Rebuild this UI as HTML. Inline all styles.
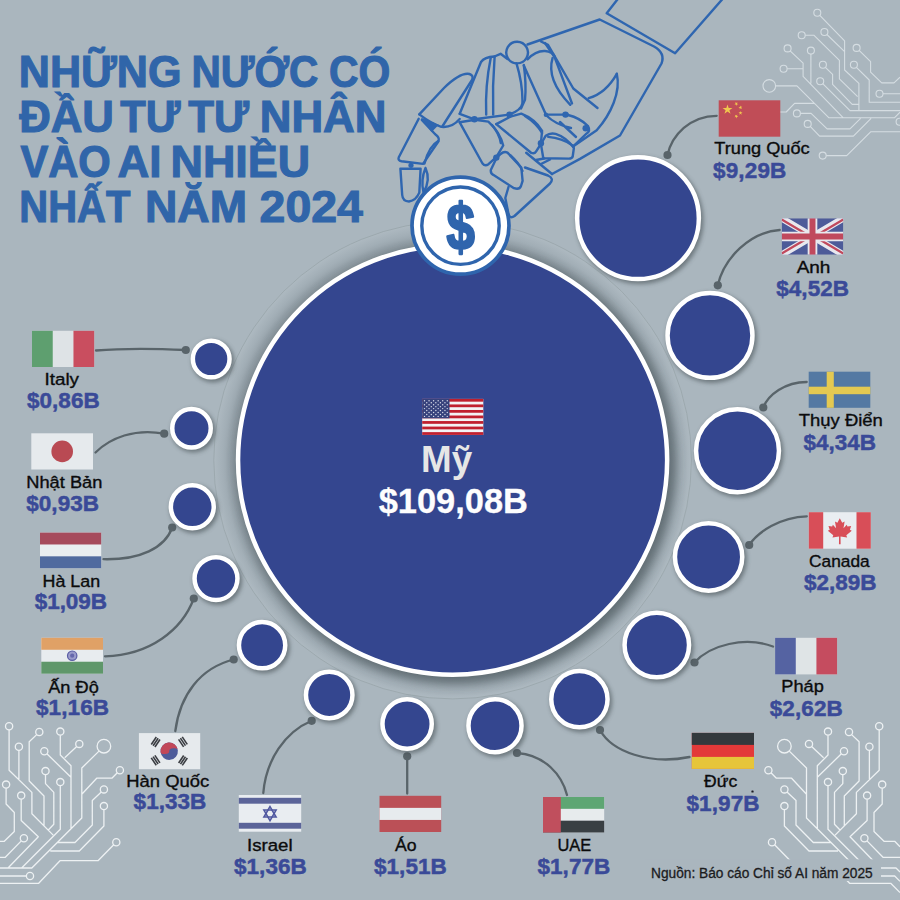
<!DOCTYPE html>
<html lang="vi"><head><meta charset="utf-8"><title>Những nước có đầu tư tư nhân vào AI nhiều nhất năm 2024</title>
<style>html,body{margin:0;padding:0;background:#aab6be;}body{width:900px;height:900px;overflow:hidden;position:relative;font-family:"Liberation Sans", sans-serif;}svg{display:block}text{font-family:"Liberation Sans", sans-serif;}</style></head><body>
<svg width="900" height="900" viewBox="0 0 900 900">
<defs><filter id="blur2" x="-20%" y="-20%" width="140%" height="140%"><feGaussianBlur stdDeviation="2"/></filter>
<radialGradient id="halo" gradientUnits="userSpaceOnUse" cx="452.6" cy="460.1" r="238.8"><stop offset="0.8995" stop-color="#566268" stop-opacity=".42"/><stop offset="0.9288" stop-color="#66727a" stop-opacity=".36"/><stop offset="0.9623" stop-color="#85929a" stop-opacity=".2"/><stop offset="1" stop-color="#bcc6cc" stop-opacity=".2"/></radialGradient>
<filter id="blur5" x="-10%" y="-10%" width="120%" height="120%"><feGaussianBlur stdDeviation="5.5"/></filter><clipPath id="haloclip"><circle cx="452.6" cy="460.1" r="238.8"/></clipPath>
</defs>
<rect width="900" height="900" fill="#aab6be"/>
<g fill="none" stroke="#d5dde2" stroke-width="1.1" stroke-linejoin="round"><path d="M819.8,15.3 L844.6,40.9 V70 L858.9,83.3 V110.6 M826.9,34.5 L844.6,51.6 M805.2,35.2 H813.8 L839.4,60.4 V78.9 L857.6,96.7 M790.1,50.9 L803.1,63.1 V76.4 L843.3,117.8 H894.4 L900,112.2 M810.9,54.1 V83.6 M787.1,68.8 H803.1 M775.6,85.9 H796.9 L829,117.8 H844 M825.4,67.3 L832.6,74.4 V84.4 L852.2,104.4 H858.9 M822.7,83.7 L850,110.6 H900 M859.1,50.4 L870.6,61.6 V72.2 L881.7,82.9 H894 L900,77.2 M856.4,67.3 L869.2,80 V102.2 H900 M883,93.8 H900 M777.1,112 H786.2 L794.6,103.4 H814.6 M800.4,113.4 H811.1 L827.1,128.9 H850 L860.6,118.3 M810.2,126.4 L819.6,136.1 H853.4 L871.1,118.3 M826.2,155.6 H846.7 L870.9,131.7 H900"/><circle cx="817.3" cy="12.8" r="3.5"/><circle cx="824.4" cy="32" r="3.5"/><circle cx="801.7" cy="35.2" r="3.5"/><circle cx="787.6" cy="48.4" r="3.5"/><circle cx="810.9" cy="50.6" r="3.5"/><circle cx="783.6" cy="68.8" r="3.5"/><circle cx="769.3" cy="85.9" r="6.3"/><circle cx="822.9" cy="64.8" r="3.5"/><circle cx="820.2" cy="81.2" r="3.5"/><circle cx="856.6" cy="47.9" r="3.5"/><circle cx="853.9" cy="64.8" r="3.5"/><circle cx="879.5" cy="93.8" r="3.5"/><circle cx="773.8" cy="112" r="3.3"/><circle cx="796.9" cy="113.4" r="3.5"/><circle cx="807.7" cy="123.9" r="3.5"/><circle cx="822.7" cy="155.6" r="3.5"/><circle cx="899.6" cy="121.7" r="3.5"/></g><g fill="none" stroke="#edf1f3" stroke-width="1.3" stroke-linejoin="round"><path d="M789.3,751.1 L806.5,768 V818 L856.5,868 H896 L900,872 M828,735.2 V755 L817.3,765.8 V828.8 M811.6,746.5 L823.6,757.8 M841.4,753.8 L817.3,777.3 M851.6,734.6 L859.1,741.8 V781 L844.3,796 V826 M879.2,729.9 V770.2 L856.4,792.4 V813.8 L835.1,835.1 M869.4,750.4 V780 M842.8,774.7 V783.6 L834.5,792.4 V824.2 L840,830 M828,785.7 V829.3 L866.7,868 M771,772.8 L776.4,778.2 H791.6 L806.5,794.2 M787,792 L796,800.4 V825 L813.3,842.5 H831 M784.4,809.7 V826 L809,851 H838 M774.6,844.8 L790.3,860.7 H828.3 L849.6,883.3 H890.7 L900,892.6 M867.1,799.2 V820.5 L850,836.8 L880.3,868 M882.2,788.2 V804 L874,812.5 V831.5 L884,841.3 H894.7 L900,846.7 M867,840.9 L883,857.3 H900 M861.9,876 H894.7 L900,881.3"/><circle cx="784.4" cy="746.2" r="6.8"/><circle cx="828" cy="731.6" r="3.6"/><circle cx="809" cy="743.9" r="3.6"/><circle cx="844" cy="751.2" r="3.6"/><circle cx="849" cy="732" r="3.6"/><circle cx="879.2" cy="726.3" r="3.6"/><circle cx="869.4" cy="746.8" r="3.6"/><circle cx="842.8" cy="771.1" r="3.6"/><circle cx="828" cy="782.1" r="3.6"/><circle cx="768.4" cy="770.2" r="3.6"/><circle cx="784.4" cy="789.4" r="3.6"/><circle cx="784.4" cy="806.1" r="3.6"/><circle cx="772" cy="842.2" r="3.6"/><circle cx="867.1" cy="795.6" r="3.6"/><circle cx="882.2" cy="784.6" r="3.6"/><circle cx="864.4" cy="838.3" r="3.6"/><circle cx="858.3" cy="876" r="3.6"/></g><g fill="none" stroke="#edf1f3" stroke-width="1.3" stroke-linejoin="round" transform="translate(888.3,0) scale(-1,1)"><path d="M789.3,751.1 L806.5,768 V818 L856.5,868 H896 L900,872 M828,735.2 V755 L817.3,765.8 V828.8 M811.6,746.5 L823.6,757.8 M841.4,753.8 L817.3,777.3 M851.6,734.6 L859.1,741.8 V781 L844.3,796 V826 M879.2,729.9 V770.2 L856.4,792.4 V813.8 L835.1,835.1 M869.4,750.4 V780 M842.8,774.7 V783.6 L834.5,792.4 V824.2 L840,830 M828,785.7 V829.3 L866.7,868 M771,772.8 L776.4,778.2 H791.6 L806.5,794.2 M787,792 L796,800.4 V825 L813.3,842.5 H831 M784.4,809.7 V826 L809,851 H838 M774.6,844.8 L790.3,860.7 H828.3 L849.6,883.3 H890.7 L900,892.6 M867.1,799.2 V820.5 L850,836.8 L880.3,868 M882.2,788.2 V804 L874,812.5 V831.5 L884,841.3 H894.7 L900,846.7 M867,840.9 L883,857.3 H900 M861.9,876 H894.7 L900,881.3"/><circle cx="784.4" cy="746.2" r="6.8"/><circle cx="828" cy="731.6" r="3.6"/><circle cx="809" cy="743.9" r="3.6"/><circle cx="844" cy="751.2" r="3.6"/><circle cx="849" cy="732" r="3.6"/><circle cx="879.2" cy="726.3" r="3.6"/><circle cx="869.4" cy="746.8" r="3.6"/><circle cx="842.8" cy="771.1" r="3.6"/><circle cx="828" cy="782.1" r="3.6"/><circle cx="768.4" cy="770.2" r="3.6"/><circle cx="784.4" cy="789.4" r="3.6"/><circle cx="784.4" cy="806.1" r="3.6"/><circle cx="772" cy="842.2" r="3.6"/><circle cx="867.1" cy="795.6" r="3.6"/><circle cx="882.2" cy="784.6" r="3.6"/><circle cx="864.4" cy="838.3" r="3.6"/><circle cx="858.3" cy="876" r="3.6"/></g><rect x="645" y="859.3" width="236" height="21.7" fill="#aab6be"/>
<g fill="none" stroke="#2f66b0" stroke-width="2.4" stroke-linejoin="round" stroke-linecap="round"><path d="M617.8,-1 L606.7,13.3 L675.1,53.3 L722.5,-1"/><path d="M527.5,44.5 L599.7,19.5 L654,46.5 Q665.5,53 661.5,63.5 L620,135.5 L580,158.9 L552,174"/><path d="M525,167.5 L548,175.5 Q554.5,178.5 550,183.5 L514.5,216 Q509.5,219.5 508.3,213 L505.3,198 L508.5,187"/><path d="M616.8,73.8 C621,92 611,114 596.7,130.3 L573,146.5"/><path d="M616.8,73.8 Q606,93 588.7,98.2"/><path d="M541,41.5 L548,44.8 L573.3,88.5 L597.5,108"/><path d="M545,43 L554.4,56.7 L572,103.5"/><path d="M552.6,57.9 Q546,80 570.3,104.8"/><path d="M527.5,59.3 Q536,50.5 545,51 Q553,52 554.4,56"/><path d="M523.8,65.5 L545.9,114.6 L567.8,114.6"/><path d="M517.1,41.8 a10.8,10.8 0 1 0 0.01,0 Z"/><path d="M459.7,113.8 L481,62 Q484.5,57 494.4,56.5"/><path d="M490.8,57.5 Q485,86 486.2,114.6"/><path d="M494.6,57 Q492.3,86 493.2,114.6"/><path d="M494.4,56.5 L500.6,53.8 L507.5,59"/><path d="M516.5,63.3 Q523,85 522.4,103.3 Q521.5,110 509.1,114.6"/><path d="M523.8,65 Q526.5,84 525,99.7 L521,108.5"/><path d="M459.7,113.8 L474.4,119.3 L509.1,114.6"/><path d="M419.3,114.4 L444,88 Q460.5,72 469.5,74 Q474,75.5 472,80 L442.6,126"/><path d="M419.3,114.4 Q432,124 441.3,126.8 Q452,128 459.7,119"/><path d="M418.7,118.7 L398.8,157.2 Q397.6,160.5 401.5,161.3 L423,163.9 L438.5,141.2 Q440,137.5 435.2,134.2 L421.8,119.9"/><path d="M438.2,141 Q429,146 424.5,163.5"/><path d="M400.4,168.7 L420.6,168.7 L419.3,192.6 Q416,200.5 409,201.5 Q402.8,201.5 402.2,195 Z"/><path d="M425.5,168 Q431,180 423.5,192.5 Q420.5,180 425.5,168"/><path d="M459.7,122.3 L474.9,119.8 L488.3,121.6 Q500,132 503.2,145.5 L496.3,157.1"/><path d="M459.7,122.3 L482.5,163.5 Q485,166.5 488.5,164.2 L496.3,157.1"/><path d="M492,125 Q499.5,134 500.8,143"/><path d="M496.3,158.5 L490.8,169.9 Q490.5,173.5 493.2,174.8 L514,188.2 Q519.5,190 521,186 L522.6,180.9 L521.3,167.5 L507.5,152.6 Q504,151 500.6,154 Z"/><path d="M510.3,155.2 Q519,163 522.5,171"/><path d="M496.3,124.1 L510.3,116.7 L521.3,113.7 Q535,119 542.1,130.8 L540.9,143"/><path d="M496.3,124.1 L531.1,152.8 Q534.5,154 536,151.6 L540.9,144"/><path d="M525,116.1 Q536,123 542.1,133"/><path d="M540.9,144 L545.8,135.7 Q550,132.5 555.6,133.8 Q566,137 573.9,147.9 L572.7,156.5 Q572,158.5 569,158.6 L543.3,158.3 Z"/><path d="M548.2,136.9 Q562,138 572.7,145.5"/><path d="M526.2,152.8 L552,174"/><path d="M536,160 L544,158.5 M541,164 L550,159.5"/><path d="M545.8,115 Q556,125 571,128 M568,115 Q580,118 588,126 Q591,131 586,134 L573,146.5 M560,122 L576,137"/></g><g fill="#2f66b0"><circle cx="474.4" cy="119.3" r="3.2"/><circle cx="509.5" cy="114.6" r="3.2"/><circle cx="432.5" cy="125.5" r="3"/><circle cx="411" cy="165.3" r="2.6"/><circle cx="496.3" cy="157.6" r="3.2"/><circle cx="540.9" cy="143.3" r="3.2"/><circle cx="565.5" cy="114.6" r="3.2"/><circle cx="585.7" cy="128.2" r="3.2"/><circle cx="545.9" cy="114.8" r="2.2"/><path d="M420.6,117.5 L438.9,124.8 L431.6,132.1 Z"/></g>
<circle cx="452.6" cy="460.1" r="238.8" fill="url(#halo)" stroke="#98a4aa" stroke-width=".8"/>
<g clip-path="url(#haloclip)"><circle cx="456.6" cy="464.6" r="218.8" fill="#39444a" opacity=".5" filter="url(#blur5)"/></g>
<g fill="none" stroke="#59646a" stroke-width="2.3" stroke-linecap="round">
<path d="M716.7,115.8 C690,116 672,135 667.5,155"/>
<path d="M779.7,230 C750,232 724,258 717.8,285.3"/>
<path d="M806.7,382 C785,382 768,395 763.3,407.5"/>
<path d="M806.8,516.3 C780,517 758,532 749.2,545"/>
<path d="M694.5,662.5 C710,645 745,636 773,646.5"/>
<path d="M600,730 C612,752 650,765 689.5,757"/>
<path d="M517,753 C545,755 562,775 567,795"/>
<path d="M407.2,756.3 V793.5"/>
<path d="M263.3,793 C266,760 285,732 311.7,720.8"/>
<path d="M175.3,731 C180,695 200,668 233.7,659.5"/>
<path d="M105,656.3 C150,655 182,630 193.8,598.5"/>
<path d="M103.5,559.2 C140,560 165,548 172.2,527.5"/>
<path d="M95.5,452.5 C110,438 135,428 164.2,433.7"/>
<path d="M96,350.5 C125,348 155,348.5 185.8,350"/>
</g>
<g fill="#59646a">
<circle cx="667.5" cy="155" r="4.1"/>
<circle cx="717.8" cy="285.3" r="4.1"/>
<circle cx="763.3" cy="407.5" r="4.1"/>
<circle cx="749.2" cy="545" r="4.1"/>
<circle cx="694.5" cy="662.5" r="4.1"/>
<circle cx="600" cy="730" r="4.1"/>
<circle cx="517" cy="753" r="4.1"/>
<circle cx="407.2" cy="756.3" r="4.1"/>
<circle cx="311.7" cy="720.8" r="4.1"/>
<circle cx="233.7" cy="659.5" r="4.1"/>
<circle cx="193.8" cy="598.5" r="4.1"/>
<circle cx="172.2" cy="527.5" r="4.1"/>
<circle cx="164.2" cy="433.7" r="4.1"/>
<circle cx="185.8" cy="350" r="4.1"/>
</g>
<circle cx="639.8" cy="220.4" r="63.7" fill="#3c474c" opacity=".55" filter="url(#blur2)"/><circle cx="638.0" cy="218.2" r="60.85" fill="#34468f" stroke="#fff" stroke-width="4.5"/>
<circle cx="711.8" cy="337.6" r="45.3" fill="#3c474c" opacity=".55" filter="url(#blur2)"/><circle cx="710.0" cy="335.4" r="42.45" fill="#34468f" stroke="#fff" stroke-width="4.5"/>
<circle cx="739.3" cy="453.0" r="44.3" fill="#3c474c" opacity=".55" filter="url(#blur2)"/><circle cx="737.5" cy="450.8" r="41.45" fill="#34468f" stroke="#fff" stroke-width="4.5"/>
<circle cx="710.4" cy="559.2" r="36.5" fill="#3c474c" opacity=".55" filter="url(#blur2)"/><circle cx="708.6" cy="557.0" r="33.65" fill="#34468f" stroke="#fff" stroke-width="4.5"/>
<circle cx="658.6" cy="647.2" r="35.1" fill="#3c474c" opacity=".55" filter="url(#blur2)"/><circle cx="656.8" cy="645.0" r="32.25" fill="#34468f" stroke="#fff" stroke-width="4.5"/>
<circle cx="581.2" cy="701.4" r="31.0" fill="#3c474c" opacity=".55" filter="url(#blur2)"/><circle cx="579.4" cy="699.2" r="28.15" fill="#34468f" stroke="#fff" stroke-width="4.5"/>
<circle cx="496.8" cy="727.9" r="29.4" fill="#3c474c" opacity=".55" filter="url(#blur2)"/><circle cx="495.0" cy="725.7" r="26.55" fill="#34468f" stroke="#fff" stroke-width="4.5"/>
<circle cx="408.9" cy="726.2" r="27.5" fill="#3c474c" opacity=".55" filter="url(#blur2)"/><circle cx="407.1" cy="724.0" r="24.65" fill="#34468f" stroke="#fff" stroke-width="4.5"/>
<circle cx="331.0" cy="697.2" r="26.1" fill="#3c474c" opacity=".55" filter="url(#blur2)"/><circle cx="329.2" cy="695.0" r="23.25" fill="#34468f" stroke="#fff" stroke-width="4.5"/>
<circle cx="263.9" cy="647.4" r="26.0" fill="#3c474c" opacity=".55" filter="url(#blur2)"/><circle cx="262.1" cy="645.2" r="23.15" fill="#34468f" stroke="#fff" stroke-width="4.5"/>
<circle cx="217.8" cy="580.8" r="24.3" fill="#3c474c" opacity=".55" filter="url(#blur2)"/><circle cx="216.0" cy="578.6" r="21.45" fill="#34468f" stroke="#fff" stroke-width="4.5"/>
<circle cx="194.1" cy="509.0" r="24.3" fill="#3c474c" opacity=".55" filter="url(#blur2)"/><circle cx="192.3" cy="506.8" r="21.45" fill="#34468f" stroke="#fff" stroke-width="4.5"/>
<circle cx="193.3" cy="430.4" r="22.1" fill="#3c474c" opacity=".55" filter="url(#blur2)"/><circle cx="191.5" cy="428.2" r="19.25" fill="#34468f" stroke="#fff" stroke-width="4.5"/>
<circle cx="213.0" cy="361.2" r="21.2" fill="#3c474c" opacity=".55" filter="url(#blur2)"/><circle cx="211.2" cy="359.0" r="18.35" fill="#34468f" stroke="#fff" stroke-width="4.5"/>
<circle cx="452.6" cy="460.1" r="214.55" fill="#34468f" stroke="#fff" stroke-width="4.5"/>
<!--COIN-->
<g><circle cx="460.5" cy="225.7" r="48.5" fill="#fff" stroke="#2f65ad" stroke-width="3.7"/><circle cx="460.5" cy="225.7" r="38.7" fill="none" stroke="#2f65ad" stroke-width="3.4"/><text transform="translate(460.7,248.6) scale(0.835,1.055)" x="0" y="0" text-anchor="middle" font-size="61" font-weight="700" fill="#2f65ad" stroke="#2f65ad" stroke-width="2.2" stroke-linejoin="round">$</text></g>
<g transform="translate(32.0,330.8)"><rect width="62.2" height="36.2" fill="#dee3e6"/><rect width="20.73" height="36.2" fill="#5e9f6f"/><rect x="41.47" width="20.73" height="36.2" fill="#c94e5f"/></g>
<g transform="translate(31.3,433.3)"><rect width="61.7" height="36.2" fill="#e6eaed"/><circle cx="30.9" cy="18.1" r="10.8" fill="#b94a53"/></g>
<g transform="translate(40.0,532.6)"><rect width="61.2" height="35.6" fill="#e9edf0"/><rect width="61.2" height="11.87" fill="#a64a5c"/><rect y="23.73" width="61.2" height="11.87" fill="#506a9f"/></g>
<g transform="translate(41.3,637.8)"><rect width="61.7" height="35.9" fill="#e8ecef"/><rect width="61.7" height="11.97" fill="#e0a166"/><rect y="23.93" width="61.7" height="11.97" fill="#5f976a"/><circle cx="30.9" cy="17.9" r="4.7" fill="#9a9ccb" stroke="#5a5ca4" stroke-width="1.2"/><circle cx="30.9" cy="17.9" r="2.1" fill="#6668ac"/></g>
<g transform="translate(138.9,733.1)"><rect width="61.3" height="36.1" fill="#e6eaed"/><g transform="rotate(-6 30.3 18.1)"><circle cx="30.3" cy="18.1" r="8.7" fill="#4d5b9a"/><path d="M21.65,18.05 A8.7,8.7 0 0 1 39.05,18.05 A4.35,2.42 0 0 0 30.35,18.05 A4.35,2.42 0 0 1 21.65,18.05Z" fill="#c14758"/></g><g transform="rotate(34 30.3 18.1)"><rect x="15.30" y="13.55" width="1.6" height="9" fill="#3a3d42"/><rect x="13.10" y="13.55" width="1.6" height="9" fill="#3a3d42"/><rect x="10.90" y="13.55" width="1.6" height="9" fill="#3a3d42"/><rect x="43.90" y="13.55" width="1.6" height="9" fill="#3a3d42"/><rect x="46.10" y="13.55" width="1.6" height="9" fill="#3a3d42"/><rect x="48.30" y="13.55" width="1.6" height="9" fill="#3a3d42"/></g><g transform="rotate(-34 30.3 18.1)"><rect x="15.30" y="13.55" width="1.6" height="9" fill="#3a3d42"/><rect x="13.10" y="13.55" width="1.6" height="9" fill="#3a3d42"/><rect x="10.90" y="13.55" width="1.6" height="9" fill="#3a3d42"/><rect x="43.90" y="13.55" width="1.6" height="9" fill="#3a3d42"/><rect x="46.10" y="13.55" width="1.6" height="9" fill="#3a3d42"/><rect x="48.30" y="13.55" width="1.6" height="9" fill="#3a3d42"/></g></g>
<g transform="translate(238.8,795.0)"><rect width="62.4" height="36.7" fill="#e9edf1"/><rect y="2.8" width="62.4" height="5.9" fill="#5b6499"/><rect y="27.8" width="62.4" height="5.9" fill="#5b6499"/><polygon points="31.20,11.55 37.26,22.05 25.14,22.05" fill="none" stroke="#5058a0" stroke-width="1.6"/><polygon points="31.20,25.55 25.14,15.05 37.26,15.05" fill="none" stroke="#5058a0" stroke-width="1.6"/></g>
<g transform="translate(379.5,795.8)"><rect width="61.7" height="36.2" fill="#bb5057"/><rect y="12.07" width="61.7" height="12.07" fill="#e7ebee"/></g>
<g transform="translate(543.0,797.0)"><rect width="61.2" height="35.5" fill="#e7ebed"/><rect width="61.2" height="11.83" fill="#5ea673"/><rect y="23.67" width="61.2" height="11.83" fill="#393f43"/><rect width="17.8" height="35.5" fill="#c04f5d"/></g>
<g transform="translate(691.8,732.9)"><rect width="62.2" height="36" fill="#e33939"/><rect width="62.2" height="12.00" fill="#33393d"/><rect y="24.00" width="62.2" height="12.00" fill="#e6c53a"/></g>
<g transform="translate(775.1,637.8)"><rect width="62" height="36.6" fill="#dfe4e6"/><rect width="20.67" height="36.6" fill="#5563a2"/><rect x="41.33" width="20.67" height="36.6" fill="#c54c5f"/></g>
<g transform="translate(808.8,512.2)"><rect width="62" height="36.5" fill="#e9edf1"/><rect width="14.4" height="36.5" fill="#d84e58"/><rect x="47.7" width="14.3" height="36.5" fill="#d84e58"/><path transform="translate(31.0,19.6) scale(1.05,1)" d="M0,-13.5 L2.3,-9 L4.6,-10.2 L3.5,-3.6 L6.6,-7 L7.3,-5.2 L10.8,-5.9 L9.6,-2 L11.4,-1.1 L6.2,3.4 L7,5.6 L0.7,4.8 L0.8,12.5 L-0.8,12.5 L-0.7,4.8 L-7,5.6 L-6.2,3.4 L-11.4,-1.1 L-9.6,-2 L-10.8,-5.9 L-7.3,-5.2 L-6.6,-7 L-3.5,-3.6 L-4.6,-10.2 L-2.3,-9 Z" fill="#d84e58"/></g>
<g transform="translate(808.7,371.7)"><rect width="61.6" height="36.1" fill="#5479a3"/><rect x="18" width="7.1" height="36.1" fill="#e4c952"/><rect y="15" width="61.6" height="7.5" fill="#e4c952"/></g>
<g transform="translate(781.7,218.3)"><svg width="61.6" height="36.4" viewBox="0 0 60 36" preserveAspectRatio="none"><clipPath id="ukc"><rect width="60" height="36"/></clipPath><g clip-path="url(#ukc)"><rect width="60" height="36" fill="#4d5b99"/><path d="M0,0L60,36M60,0L0,36" stroke="#e8e8ee" stroke-width="6.6"/><path d="M0,1.2L28,18M60,1.2L32,18M0,34.8L28,18M60,34.8L32,18" stroke="#c0495d" stroke-width="2.1" transform="translate(0,0)"/><path d="M30,0V36M0,18H60" stroke="#e8e8ee" stroke-width="9.4"/><path d="M30,0V36M0,18H60" stroke="#c0495d" stroke-width="5.8"/></g></svg></g>
<g transform="translate(718.7,100.3)"><rect width="61.6" height="36.4" fill="#c04d57"/><polygon points="8.80,4.10 9.97,7.69 13.75,7.69 10.69,9.91 11.86,13.51 8.80,11.29 5.74,13.51 6.91,9.91 3.85,7.69 7.63,7.69" fill="#f0c84e"/><polygon points="18.65,1.68 18.33,3.17 19.65,3.94 18.14,4.10 17.82,5.59 17.20,4.19 15.68,4.35 16.82,3.33 16.19,1.94 17.52,2.70" fill="#f0c84e"/><polygon points="23.62,6.15 22.60,7.28 23.36,8.61 21.97,7.98 20.95,9.12 21.11,7.60 19.71,6.98 21.20,6.66 21.36,5.15 22.13,6.47" fill="#f0c84e"/><polygon points="21.80,10.60 22.27,12.05 23.80,12.05 22.56,12.95 23.03,14.40 21.80,13.50 20.57,14.40 21.04,12.95 19.80,12.05 21.33,12.05" fill="#f0c84e"/><polygon points="18.65,14.18 18.33,15.67 19.65,16.44 18.14,16.60 17.82,18.09 17.20,16.69 15.68,16.85 16.82,15.83 16.19,14.44 17.52,15.20" fill="#f0c84e"/></g>
<g transform="translate(422.2,398.9)"><rect width="61.1" height="36" fill="#f3f3f5"/><rect y="0.00" width="61.1" height="2.77" fill="#c0202f"/><rect y="5.54" width="61.1" height="2.77" fill="#c0202f"/><rect y="11.08" width="61.1" height="2.77" fill="#c0202f"/><rect y="16.62" width="61.1" height="2.77" fill="#c0202f"/><rect y="22.15" width="61.1" height="2.77" fill="#c0202f"/><rect y="27.69" width="61.1" height="2.77" fill="#c0202f"/><rect y="33.23" width="61.1" height="2.77" fill="#c0202f"/><rect width="27.3" height="19.38" fill="#37427c"/><circle cx="2.30" cy="1.90" r="0.7" fill="#d9dcea"/><circle cx="6.85" cy="1.90" r="0.7" fill="#d9dcea"/><circle cx="11.40" cy="1.90" r="0.7" fill="#d9dcea"/><circle cx="15.95" cy="1.90" r="0.7" fill="#d9dcea"/><circle cx="20.50" cy="1.90" r="0.7" fill="#d9dcea"/><circle cx="25.05" cy="1.90" r="0.7" fill="#d9dcea"/><circle cx="4.55" cy="3.85" r="0.7" fill="#d9dcea"/><circle cx="9.10" cy="3.85" r="0.7" fill="#d9dcea"/><circle cx="13.65" cy="3.85" r="0.7" fill="#d9dcea"/><circle cx="18.20" cy="3.85" r="0.7" fill="#d9dcea"/><circle cx="22.75" cy="3.85" r="0.7" fill="#d9dcea"/><circle cx="2.30" cy="5.80" r="0.7" fill="#d9dcea"/><circle cx="6.85" cy="5.80" r="0.7" fill="#d9dcea"/><circle cx="11.40" cy="5.80" r="0.7" fill="#d9dcea"/><circle cx="15.95" cy="5.80" r="0.7" fill="#d9dcea"/><circle cx="20.50" cy="5.80" r="0.7" fill="#d9dcea"/><circle cx="25.05" cy="5.80" r="0.7" fill="#d9dcea"/><circle cx="4.55" cy="7.75" r="0.7" fill="#d9dcea"/><circle cx="9.10" cy="7.75" r="0.7" fill="#d9dcea"/><circle cx="13.65" cy="7.75" r="0.7" fill="#d9dcea"/><circle cx="18.20" cy="7.75" r="0.7" fill="#d9dcea"/><circle cx="22.75" cy="7.75" r="0.7" fill="#d9dcea"/><circle cx="2.30" cy="9.70" r="0.7" fill="#d9dcea"/><circle cx="6.85" cy="9.70" r="0.7" fill="#d9dcea"/><circle cx="11.40" cy="9.70" r="0.7" fill="#d9dcea"/><circle cx="15.95" cy="9.70" r="0.7" fill="#d9dcea"/><circle cx="20.50" cy="9.70" r="0.7" fill="#d9dcea"/><circle cx="25.05" cy="9.70" r="0.7" fill="#d9dcea"/><circle cx="4.55" cy="11.65" r="0.7" fill="#d9dcea"/><circle cx="9.10" cy="11.65" r="0.7" fill="#d9dcea"/><circle cx="13.65" cy="11.65" r="0.7" fill="#d9dcea"/><circle cx="18.20" cy="11.65" r="0.7" fill="#d9dcea"/><circle cx="22.75" cy="11.65" r="0.7" fill="#d9dcea"/><circle cx="2.30" cy="13.60" r="0.7" fill="#d9dcea"/><circle cx="6.85" cy="13.60" r="0.7" fill="#d9dcea"/><circle cx="11.40" cy="13.60" r="0.7" fill="#d9dcea"/><circle cx="15.95" cy="13.60" r="0.7" fill="#d9dcea"/><circle cx="20.50" cy="13.60" r="0.7" fill="#d9dcea"/><circle cx="25.05" cy="13.60" r="0.7" fill="#d9dcea"/><circle cx="4.55" cy="15.55" r="0.7" fill="#d9dcea"/><circle cx="9.10" cy="15.55" r="0.7" fill="#d9dcea"/><circle cx="13.65" cy="15.55" r="0.7" fill="#d9dcea"/><circle cx="18.20" cy="15.55" r="0.7" fill="#d9dcea"/><circle cx="22.75" cy="15.55" r="0.7" fill="#d9dcea"/><circle cx="2.30" cy="17.50" r="0.7" fill="#d9dcea"/><circle cx="6.85" cy="17.50" r="0.7" fill="#d9dcea"/><circle cx="11.40" cy="17.50" r="0.7" fill="#d9dcea"/><circle cx="15.95" cy="17.50" r="0.7" fill="#d9dcea"/><circle cx="20.50" cy="17.50" r="0.7" fill="#d9dcea"/><circle cx="25.05" cy="17.50" r="0.7" fill="#d9dcea"/></g>
<text x="44.46" y="385.0" font-size="16.8" font-weight="400" fill="#0b0b0c" textLength="34.58" lengthAdjust="spacingAndGlyphs" stroke="#0b0b0c" stroke-width=".35">Italy</text>
<text x="26.90" y="407.8" font-size="22.5" font-weight="700" fill="#3a4a98" textLength="72.82" lengthAdjust="spacing" stroke="#3a4a98" stroke-width=".5">$0,86B</text>
<text x="26.30" y="488.2" font-size="16.8" font-weight="400" fill="#0b0b0c" textLength="76.08" lengthAdjust="spacingAndGlyphs" stroke="#0b0b0c" stroke-width=".35">Nhật Bản</text>
<text x="26.20" y="511.2" font-size="22.5" font-weight="700" fill="#3a4a98" textLength="72.82" lengthAdjust="spacing" stroke="#3a4a98" stroke-width=".5">$0,93B</text>
<text x="42.53" y="586.8" font-size="16.8" font-weight="400" fill="#0b0b0c" textLength="57.63" lengthAdjust="spacingAndGlyphs" stroke="#0b0b0c" stroke-width=".35">Hà Lan</text>
<text x="34.70" y="609.0" font-size="22.5" font-weight="700" fill="#3a4a98" textLength="72.32" lengthAdjust="spacing" stroke="#3a4a98" stroke-width=".5">$1,09B</text>
<text x="48.26" y="692.8" font-size="16.8" font-weight="400" fill="#0b0b0c" textLength="50.50" lengthAdjust="spacingAndGlyphs" stroke="#0b0b0c" stroke-width=".35">Ấn Độ</text>
<text x="36.00" y="715.3" font-size="22.5" font-weight="700" fill="#3a4a98" textLength="73.02" lengthAdjust="spacing" stroke="#3a4a98" stroke-width=".5">$1,16B</text>
<text x="126.29" y="786.5" font-size="16.8" font-weight="400" fill="#0b0b0c" textLength="82.90" lengthAdjust="spacingAndGlyphs" stroke="#0b0b0c" stroke-width=".35">Hàn Quốc</text>
<text x="133.60" y="809.4" font-size="22.5" font-weight="700" fill="#3a4a98" textLength="72.72" lengthAdjust="spacing" stroke="#3a4a98" stroke-width=".5">$1,33B</text>
<text x="246.98" y="850.8" font-size="16.8" font-weight="400" fill="#0b0b0c" textLength="45.57" lengthAdjust="spacingAndGlyphs" stroke="#0b0b0c" stroke-width=".35">Israel</text>
<text x="233.90" y="873.8" font-size="22.5" font-weight="700" fill="#3a4a98" textLength="72.92" lengthAdjust="spacing" stroke="#3a4a98" stroke-width=".5">$1,36B</text>
<text x="394.97" y="850.8" font-size="16.8" font-weight="400" fill="#0b0b0c" textLength="21.58" lengthAdjust="spacingAndGlyphs" stroke="#0b0b0c" stroke-width=".35">Áo</text>
<text x="373.90" y="873.8" font-size="22.5" font-weight="700" fill="#3a4a98" textLength="72.92" lengthAdjust="spacing" stroke="#3a4a98" stroke-width=".5">$1,51B</text>
<text x="557.43" y="850.8" font-size="16.8" font-weight="400" fill="#0b0b0c" textLength="33.78" lengthAdjust="spacingAndGlyphs" stroke="#0b0b0c" stroke-width=".35">UAE</text>
<text x="537.50" y="873.8" font-size="22.5" font-weight="700" fill="#3a4a98" textLength="72.72" lengthAdjust="spacing" stroke="#3a4a98" stroke-width=".5">$1,77B</text>
<text x="704.08" y="786.6" font-size="16.8" font-weight="400" fill="#0b0b0c" textLength="33.18" lengthAdjust="spacingAndGlyphs" stroke="#0b0b0c" stroke-width=".35">Đức</text>
<text x="686.50" y="811.0" font-size="22.5" font-weight="700" fill="#3a4a98" textLength="73.02" lengthAdjust="spacing" stroke="#3a4a98" stroke-width=".5">$1,97B</text>
<text x="781.31" y="691.9" font-size="16.8" font-weight="400" fill="#0b0b0c" textLength="42.46" lengthAdjust="spacingAndGlyphs" stroke="#0b0b0c" stroke-width=".35">Pháp</text>
<text x="769.70" y="716.0" font-size="22.5" font-weight="700" fill="#3a4a98" textLength="73.12" lengthAdjust="spacing" stroke="#3a4a98" stroke-width=".5">$2,62B</text>
<text x="809.12" y="567.0" font-size="16.8" font-weight="400" fill="#0b0b0c" textLength="60.58" lengthAdjust="spacingAndGlyphs" stroke="#0b0b0c" stroke-width=".35">Canada</text>
<text x="803.90" y="589.8" font-size="22.5" font-weight="700" fill="#3a4a98" textLength="72.62" lengthAdjust="spacing" stroke="#3a4a98" stroke-width=".5">$2,89B</text>
<text x="798.79" y="425.5" font-size="16.8" font-weight="400" fill="#0b0b0c" textLength="84.11" lengthAdjust="spacingAndGlyphs" stroke="#0b0b0c" stroke-width=".35">Thụy Điển</text>
<text x="803.40" y="449.5" font-size="22.5" font-weight="700" fill="#3a4a98" textLength="72.62" lengthAdjust="spacing" stroke="#3a4a98" stroke-width=".5">$4,34B</text>
<text x="796.66" y="273.3" font-size="16.8" font-weight="400" fill="#0b0b0c" textLength="33.77" lengthAdjust="spacingAndGlyphs" stroke="#0b0b0c" stroke-width=".35">Anh</text>
<text x="776.20" y="296.0" font-size="22.5" font-weight="700" fill="#3a4a98" textLength="72.82" lengthAdjust="spacing" stroke="#3a4a98" stroke-width=".5">$4,52B</text>
<text x="714.29" y="153.8" font-size="16.8" font-weight="400" fill="#0b0b0c" textLength="95.39" lengthAdjust="spacingAndGlyphs" stroke="#0b0b0c" stroke-width=".35">Trung Quốc</text>
<text x="713.00" y="177.8" font-size="22.5" font-weight="700" fill="#3a4a98" textLength="73.32" lengthAdjust="spacing" stroke="#3a4a98" stroke-width=".5">$9,29B</text>
<text x="421.04" y="472.2" font-size="36" font-weight="700" fill="#e6e6e6" textLength="51.16" lengthAdjust="spacingAndGlyphs">Mỹ</text>
<rect x="751.4" y="790.4" width="2.2" height="2.2" rx=".6" fill="#1a1a22"/>
<text x="378.65" y="513.3" font-size="34.8" font-weight="700" fill="#fdfdfd" textLength="149.32" lengthAdjust="spacingAndGlyphs" stroke="#fdfdfd" stroke-width=".3">$109,08B</text>
<text y="86.5" font-size="45" font-weight="700" fill="#3065a9" stroke="#3065a9" stroke-width="1.1">
<tspan x="18.82" textLength="162.66" lengthAdjust="spacingAndGlyphs">NHỮNG</tspan> <tspan x="191.48" textLength="126.93" lengthAdjust="spacingAndGlyphs">NƯỚC</tspan> <tspan x="329.02" textLength="61.29" lengthAdjust="spacingAndGlyphs">CÓ</tspan>
</text>
<text y="131.5" font-size="45" font-weight="700" fill="#3065a9" stroke="#3065a9" stroke-width="1.1">
<tspan x="19.13" textLength="94.84" lengthAdjust="spacingAndGlyphs">ĐẦU</tspan> <tspan x="120.23" textLength="60.27" lengthAdjust="spacingAndGlyphs">TƯ</tspan> <tspan x="188.23" textLength="60.77" lengthAdjust="spacingAndGlyphs">TƯ</tspan> <tspan x="259.77" textLength="126.69" lengthAdjust="spacingAndGlyphs">NHÂN</tspan>
</text>
<text y="176.5" font-size="45" font-weight="700" fill="#3065a9" stroke="#3065a9" stroke-width="1.1">
<tspan x="20.42" textLength="90.34" lengthAdjust="spacingAndGlyphs">VÀO</tspan> <tspan x="117.40" textLength="44.04" lengthAdjust="spacingAndGlyphs">AI</tspan> <tspan x="170.50" textLength="139.64" lengthAdjust="spacingAndGlyphs">NHIỀU</tspan>
</text>
<text y="221.6" font-size="45" font-weight="700" fill="#3065a9" stroke="#3065a9" stroke-width="1.1">
<tspan x="19.32" textLength="111.11" lengthAdjust="spacingAndGlyphs">NHẤT</tspan> <tspan x="145.00" textLength="101.99" lengthAdjust="spacingAndGlyphs">NĂM</tspan> <tspan x="259.59" textLength="103.36" lengthAdjust="spacingAndGlyphs">2024</tspan>
</text>
<text x="651.08" y="878.1" font-size="13.8" font-weight="400" fill="#1c1c1e" textLength="221.59" lengthAdjust="spacingAndGlyphs" stroke="#1c1c1e" stroke-width=".3">Nguồn: Báo cáo Chỉ số AI năm 2025</text>
</svg></body></html>
